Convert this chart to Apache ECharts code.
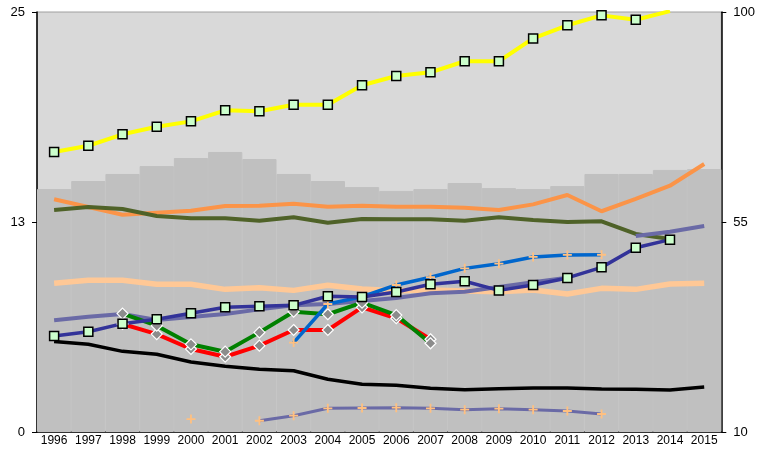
<!DOCTYPE html>
<html>
<head>
<meta charset="utf-8">
<script src="https://cdn.jsdelivr.net/npm/echarts@6/dist/echarts.min.js"></script>
<style>html,body{margin:0;padding:0;background:#fff}#c{width:758px;height:450px}</style>
</head>
<body>
<div id="c"></div>
<script>
var years = ['1996','1997','1998','1999','2000','2001','2002','2003','2004','2005','2006','2007','2008','2009','2010','2011','2012','2013','2014','2015'];
var leftTicks = [0, 12.5, 25];
var rightTicks = [10, 55, 100];
var grayBand = [14.46,14.94,15.36,15.83,16.31,16.67,16.25,15.36,14.94,14.58,14.35,14.46,14.82,14.52,14.46,14.64,15.36,15.36,15.60,15.65];
var yellowSeries = [16.67,17.04,17.72,18.17,18.49,19.15,19.09,19.48,19.48,20.64,21.19,21.41,22.07,22.07,23.43,24.21,24.80,24.54,25.05,null];
var orangeSeries = [13.85,13.39,12.93,13.05,13.17,13.45,13.47,13.59,13.41,13.47,13.41,13.41,13.35,13.21,13.55,14.11,13.14,13.87,14.66,15.95];
var oliveSeries = [13.21,13.39,13.27,12.86,12.72,12.72,12.58,12.78,12.46,12.68,12.66,12.66,12.58,12.78,12.62,12.50,12.54,11.79,11.49,null];
var slateSeries = [6.65,6.86,7.02,6.67,6.85,7.02,7.30,7.54,7.62,7.80,7.98,8.26,8.35,8.63,8.91,9.18,null,11.67,11.92,12.26];
var navySeries = [5.71,5.97,6.45,6.71,7.07,7.42,7.48,7.54,8.08,8.04,8.33,8.79,8.97,8.43,8.75,9.17,9.80,10.97,11.45,null];
var peachSeries = [8.85,9.03,9.03,8.79,8.79,8.49,8.59,8.43,8.73,8.51,8.41,8.45,8.39,8.35,8.45,8.21,8.55,8.49,8.81,8.85];
var greenSeries = [null,null,7.05,6.33,5.22,4.78,5.93,7.16,7.01,7.70,6.96,5.28,null,null,null,null,null,null,null,null];
var redSeries = [null,null,6.43,5.83,4.94,4.48,5.14,6.07,6.07,7.42,6.77,5.52,null,null,null,null,null,null,null,null];
var blueSeries = [null,null,null,null,null,null,null,5.32,7.62,8.05,8.75,9.21,9.74,10.02,10.42,10.54,10.55,null,null,null];
var blackSeries = [5.38,5.22,4.80,4.63,4.17,3.91,3.73,3.65,3.14,2.84,2.78,2.60,2.52,2.58,2.62,2.62,2.56,2.54,2.50,2.68];
var lowSeries = [null,null,null,null,0.77,null,0.67,0.97,1.41,1.43,1.45,1.41,1.33,1.39,1.33,1.25,1.07,null,null,null];

var plusPath = 'path://M4,0H6V4H10V6H6V10H4V6H0V4H4Z';

function line(data, color, width, extra) {
  var s = {
    type: 'line', data: data, yAxisIndex: 0, symbol: 'none',
    lineStyle: { color: color, width: width },
    itemStyle: { color: color },
    connectNulls: false, showAllSymbol: true, animation: false, clip: true
  };
  for (var k in extra) s[k] = extra[k];
  return s;
}
var squareMark = { symbol: 'rect', symbolSize: 9, itemStyle: { color: '#ccffcc', borderColor: '#000', borderWidth: 1.5 } };
var diamondMark = { symbol: 'diamond', symbolSize: 11, itemStyle: { color: '#8c8c8c', borderColor: '#fff', borderWidth: 1.2 } };
var plusMark = { symbol: plusPath, symbolSize: 9, itemStyle: { color: '#ffc080', borderWidth: 0 } };

var chart = echarts.init(document.getElementById('c'), null, { renderer: 'canvas' });
chart.setOption({
  animation: false,
  backgroundColor: '#ffffff',
  grid: { left: 37, right: 34, top: 12, bottom: 18, show: true, backgroundColor: '#d9d9d9', borderColor: '#a0a0a0', borderWidth: 1 },
  xAxis: {
    type: 'category', data: years, boundaryGap: true,
    axisLine: { lineStyle: { color: '#000', width: 1.5 } },
    axisTick: { show: false },
    axisLabel: { color: '#000', fontSize: 12, fontFamily: 'Liberation Sans, Arial', margin: 3, interval: 0 }
  },
  yAxis: [
    {
      type: 'value', min: leftTicks[0], max: leftTicks[2], interval: leftTicks[1] - leftTicks[0],
      axisLine: { show: true, lineStyle: { color: '#000', width: 1.5 } },
      axisTick: { show: true, length: 5, lineStyle: { color: '#000' } },
      splitLine: { show: false },
      axisLabel: { color: '#000', fontSize: 13, fontFamily: 'Liberation Sans, Arial', margin: 12, formatter: function (v) { return Math.round(v); } }
    },
    {
      type: 'value', position: 'right', min: rightTicks[0], max: rightTicks[2], interval: rightTicks[1] - rightTicks[0],
      axisLine: { show: true, lineStyle: { color: '#000', width: 1.5 } },
      axisTick: { show: true, length: 5, lineStyle: { color: '#000' } },
      splitLine: { show: false },
      axisLabel: { color: '#000', fontSize: 13, fontFamily: 'Liberation Sans, Arial', margin: 12, formatter: function (v) { return Math.round(v); } }
    }
  ],
  series: [
    { type: 'bar', data: grayBand, yAxisIndex: 0, barCategoryGap: 0, barGap: 0, itemStyle: { color: '#c0c0c0', borderColor: '#c0c0c0', borderWidth: 1 }, silent: true, animation: false },
    line(peachSeries, '#ffc896', 5.5),
    line(blackSeries, '#000000', 3.5),
    line(orangeSeries, '#fb9448', 4),
    line(oliveSeries, '#4f6228', 4),
    line(slateSeries, '#6a6aa6', 4),
    line(lowSeries, '#6a6aa6', 3, plusMark),
    line(redSeries, '#ff0000', 4, diamondMark),
    line(greenSeries, '#008000', 4, diamondMark),
    line(blueSeries, '#0066cc', 3.5, plusMark),
    line(navySeries, '#333399', 3.5, squareMark),
    line(yellowSeries, '#ffff00', 4, squareMark)
  ]
});
</script>
</body>
</html>
